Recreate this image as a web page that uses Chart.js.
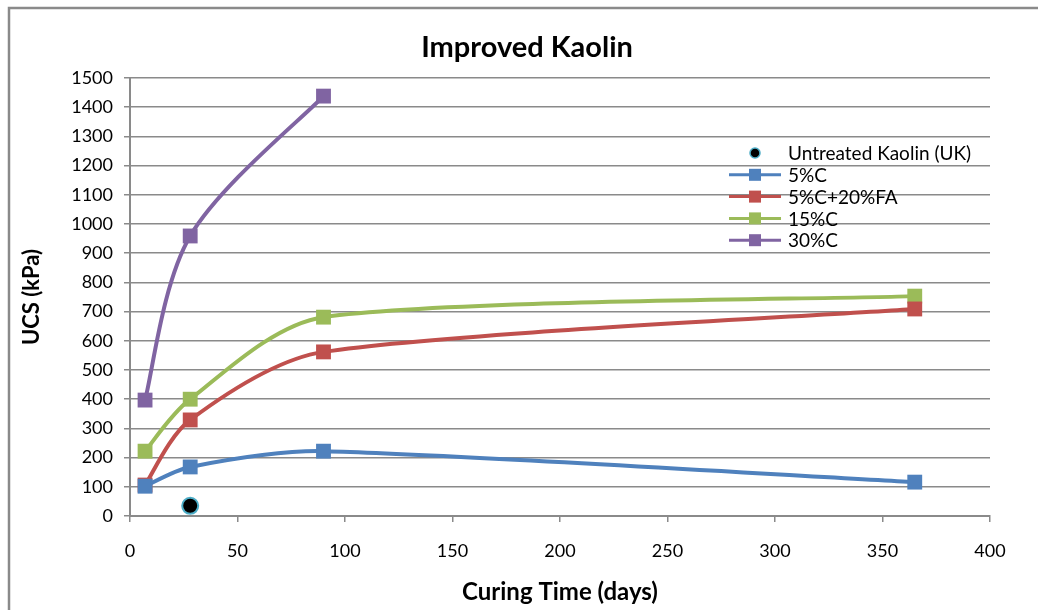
<!DOCTYPE html>
<html>
<head>
<meta charset="utf-8">
<script src="https://cdn.jsdelivr.net/npm/chart.js@4.4.1/dist/chart.umd.min.js"></script>
<style>
  html, body { margin: 0; padding: 0; background: #fff; }
  #wrap { width: 1038px; height: 610px; position: relative; }
</style>
</head>
<body>
<div id="wrap"><canvas id="grafica"></canvas></div>
<script>
// Curing times (days) and UCS (kPa)
const diasUntreated = [28];
const ucsUntreated = [35];

const dias = [7, 28, 90, 365];
const ucs5C = [102, 168, 222, 116];
const ucs5C20FA = [106, 329, 562, 709];
const ucs15C = [222, 400, 681, 753];

const dias30C = [7, 28, 90];
const ucs30C = [397, 959, 1438];

const nombres = ["Untreated Kaolin (UK)", "5%C", "5%C+20%FA", "15%C", "30%C"];
const titulo = "Improved Kaolin";

function puntos(xs, ys) {
    return xs.map((x, i) => ({ x: x, y: ys[i] }));
}

const fuente = "Lato, 'Open Sans', sans-serif";
const gris = "#8a8a8a";

function serie(label, xs, ys, color) {
    return {
        label: label,
        data: puntos(xs, ys),
        borderColor: color,
        backgroundColor: color,
        borderWidth: 4,
        tension: 0.4,
        pointStyle: "rect",
        pointRadius: 10.5,
        pointBorderWidth: 0,
        pointHoverRadius: 10.5,
        showLine: true
    };
}

const datasets = [
    {
        label: nombres[0],
        data: puntos(diasUntreated, ucsUntreated),
        showLine: false,
        backgroundColor: "#000000",
        borderColor: "#4BACC6",
        pointStyle: "circle",
        pointRadius: 8,
        pointBorderWidth: 2,
        pointHoverRadius: 8
    },
    serie(nombres[1], dias, ucs5C, "#4F81BD"),
    serie(nombres[2], dias, ucs5C20FA, "#C0504D"),
    serie(nombres[3], dias, ucs15C, "#9BBB59"),
    serie(nombres[4], dias30C, ucs30C, "#8064A2")
];

// suavizado: brazos de 1/6 del vector entre vecinos, acortados en tramos cortos
const suavizado = {
    id: "suavizado",
    beforeDatasetDraw(chart, args) {
        const meta = args.meta;
        const linea = meta.dataset;
        const pts = meta.data;
        if (!linea || pts.length < 2) return;
        linea.updateControlPoints(chart.chartArea, "x");
        pts.forEach((p, i) => {
            const ant = pts[i - 1] || p;
            const sig = pts[i + 1] || p;
            const d01 = Math.hypot(p.x - ant.x, p.y - ant.y);
            const d12 = Math.hypot(sig.x - p.x, sig.y - p.y);
            const s = (d01 + d12) || 1;
            const fAnt = Math.min(1 / 6, d01 / s / 3);
            const fSig = Math.min(1 / 6, d12 / s / 3);
            p.cp1x = p.x - fAnt * (sig.x - ant.x);
            p.cp1y = p.y - fAnt * (sig.y - ant.y);
            p.cp2x = p.x + fSig * (sig.x - ant.x);
            p.cp2y = p.y + fSig * (sig.y - ant.y);
        });
        linea._path = undefined;
    }
};

// marco exterior y título
const marco = {
    id: "marco",
    beforeDraw(chart) {
        const ctx = chart.ctx;
        ctx.save();
        ctx.strokeStyle = gris;
        ctx.lineWidth = 2.5;
        ctx.beginPath();
        ctx.moveTo(9, chart.height + 5);
        ctx.lineTo(9, 8);
        ctx.lineTo(chart.width + 5, 8);
        ctx.stroke();

        ctx.fillStyle = "#000";
        ctx.font = "bold 29px " + fuente;
        ctx.textAlign = "center";
        ctx.textBaseline = "middle";
        ctx.fillText(titulo, 527, 48);
        ctx.restore();
    }
};

// leyenda dentro del área de trazado
const leyenda = {
    id: "leyenda",
    afterDatasetsDraw(chart) {
        const ctx = chart.ctx;
        const x0 = 729, y0 = 153, paso = 21.8;
        ctx.save();
        ctx.font = "19px " + fuente;
        ctx.textBaseline = "middle";
        ctx.textAlign = "left";
        chart.data.datasets.forEach((ds, i) => {
            const y = y0 + i * paso;
            const cx = x0 + 26;
            if (ds.showLine !== false) {
                ctx.strokeStyle = ds.borderColor;
                ctx.lineWidth = 3;
                ctx.beginPath();
                ctx.moveTo(x0, y);
                ctx.lineTo(x0 + 52, y);
                ctx.stroke();
                ctx.fillStyle = ds.backgroundColor;
                ctx.fillRect(cx - 6, y - 6, 12, 12);
            } else {
                ctx.fillStyle = ds.backgroundColor;
                ctx.strokeStyle = ds.borderColor;
                ctx.lineWidth = 1.5;
                ctx.beginPath();
                ctx.arc(cx, y, 5, 0, Math.PI * 2);
                ctx.fill();
                ctx.stroke();
            }
            ctx.fillStyle = "#000";
            ctx.fillText(ds.label, x0 + 59, y + 1);
        });
        ctx.restore();
    }
};

const ctx = document.getElementById("grafica").getContext("2d");

new Chart(ctx, {
    type: "scatter",
    data: { datasets: datasets },
    plugins: [marco, suavizado, leyenda],
    options: {
        responsive: true,
        maintainAspectRatio: false,
        animation: false,
        layout: { padding: { left: 0, right: 48, top: 78, bottom: 0 } },
        plugins: {
            legend: { display: false },
            tooltip: { enabled: false },
            title: { display: false }
        },
        scales: {
            x: {
                type: "linear",
                min: 0,
                max: 400,
                afterFit: (scale) => { scale.height = 94; },
                ticks: {
                    stepSize: 50,
                    color: "#000",
                    font: { family: fuente, size: 18 },
                    padding: 18
                },
                grid: {
                    drawOnChartArea: false,
                    drawTicks: true,
                    tickLength: 6,
                    color: gris,
                    lineWidth: 1.5
                },
                border: { display: true, color: gris, width: 2 },
                title: {
                    display: true,
                    text: "Curing Time (days)",
                    color: "#000",
                    font: { family: fuente, size: 24, weight: "bold" },
                    padding: { top: 0, bottom: 3 }
                }
            },
            y: {
                min: 0,
                max: 1500,
                afterFit: (scale) => { scale.width = 130; },
                ticks: {
                    stepSize: 100,
                    color: "#000",
                    font: { family: fuente, size: 18 },
                    padding: 11,
                    callback: (v) => String(v)
                },
                grid: {
                    drawTicks: true,
                    tickLength: 6,
                    color: gris,
                    lineWidth: 1.5
                },
                border: { display: true, color: gris, width: 2 },
                title: {
                    display: true,
                    text: "UCS (kPa)",
                    color: "#000",
                    font: { family: fuente, size: 22, weight: "bold" },
                    padding: { top: 19, bottom: 0 }
                }
            }
        }
    }
});
</script>
</body>
</html>
